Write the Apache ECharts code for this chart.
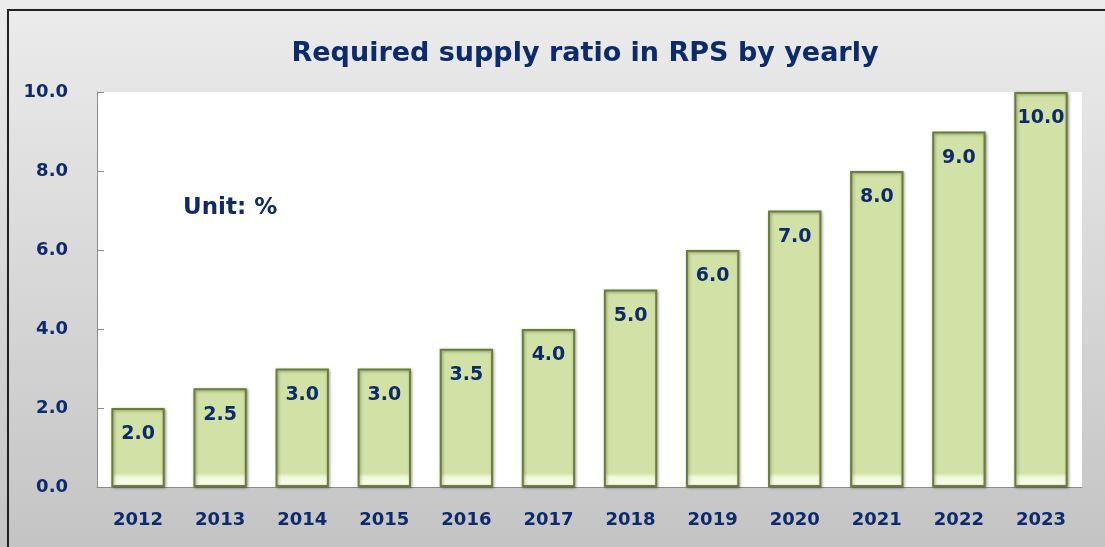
<!DOCTYPE html>
<html>
<head>
<meta charset="utf-8">
<script src="https://cdn.jsdelivr.net/npm/echarts@6/dist/echarts.min.js"></script>
<style>
  html, body { margin: 0; padding: 0; background: #fff; }
  #chart { width: 1105px; height: 547px; }
  #frame {
    position: absolute; left: 7px; top: 9px; width: 1110px; height: 560px;
    border: 2px solid #222; box-shadow: 2px 2px 3px rgba(0,0,0,0.4);
    pointer-events: none;
  }
</style>
</head>
<body>
<div id="chart"></div>
<div id="frame"></div>
<script>
// values
var years = ['2012', '2013', '2014', '2015', '2016', '2017', '2018', '2019', '2020', '2021', '2022', '2023'];
var ratio = [2.0, 2.5, 3.0, 3.0, 3.5, 4.0, 5.0, 6.0, 7.0, 8.0, 9.0, 10.0];

var navy = '#0d2a6b';
var font = 'DejaVu Sans';

var myChart = echarts.init(document.getElementById('chart'));

var option = {
    backgroundColor: {
        type: 'linear', x: 0, y: 0, x2: 0, y2: 1,
        colorStops: [{ offset: 0, color: '#ececec' }, { offset: 1, color: '#c4c4c4' }]
    },
    title: {
        text: 'Required supply ratio in RPS by yearly',
        left: 580, top: 35, textAlign: 'center',
        textStyle: { color: navy, fontFamily: font, fontWeight: 'bold', fontSize: 27 }
    },
    graphic: [{
        type: 'text', left: 183, top: 197,
        style: { text: 'Unit: %', fill: navy, font: 'bold 23px "DejaVu Sans"' }
    }],
    grid: { left: 97, right: 23, top: 92, bottom: 60, show: true, backgroundColor: '#fff', borderWidth: 0 },
    xAxis: {
        type: 'category',
        data: years,
        axisLine: { lineStyle: { color: '#8c8c8c' } },
        axisTick: { inside: true, length: 7, lineStyle: { color: '#8c8c8c' } },
        axisLabel: { color: navy, fontFamily: font, fontWeight: 'bold', fontSize: 18, margin: 24 }
    },
    yAxis: {
        type: 'value', min: 0, max: 10, interval: 2,
        axisLine: { show: true, lineStyle: { color: '#8c8c8c' } },
        axisTick: { show: true, inside: true, length: 7, lineStyle: { color: '#8c8c8c' } },
        splitLine: { show: false },
        axisLabel: {
            color: navy, fontFamily: font, fontWeight: 'bold', fontSize: 18, margin: 29,
            formatter: function (v) { return v.toFixed(1); }
        }
    },
    series: [{
        type: 'bar',
        data: ratio,
        barCategoryGap: '35%',
        itemStyle: {
            // global gradient so the pale bevel sits at the foot of every bar
            color: {
                type: 'linear', x: 0, y: 92, x2: 0, y2: 487, global: true,
                colorStops: [
                    { offset: 0, color: '#d2e2a6' },
                    { offset: 0.965, color: '#d2e2a6' },
                    { offset: 0.975, color: '#f2f7dc' },
                    { offset: 1, color: '#fbfdec' }
                ]
            },
            borderColor: '#6a7e36',
            borderWidth: 2,
            shadowColor: 'rgba(0,0,0,0.35)',
            shadowBlur: 3,
            shadowOffsetX: 1,
            shadowOffsetY: 1
        },
        label: {
            show: true, position: 'insideTop', distance: 17,
            color: navy, fontFamily: font, fontWeight: 'bold', fontSize: 19,
            formatter: function (p) { return p.value.toFixed(1); }
        }
    }]
};

option && myChart.setOption(option);
</script>
</body>
</html>
